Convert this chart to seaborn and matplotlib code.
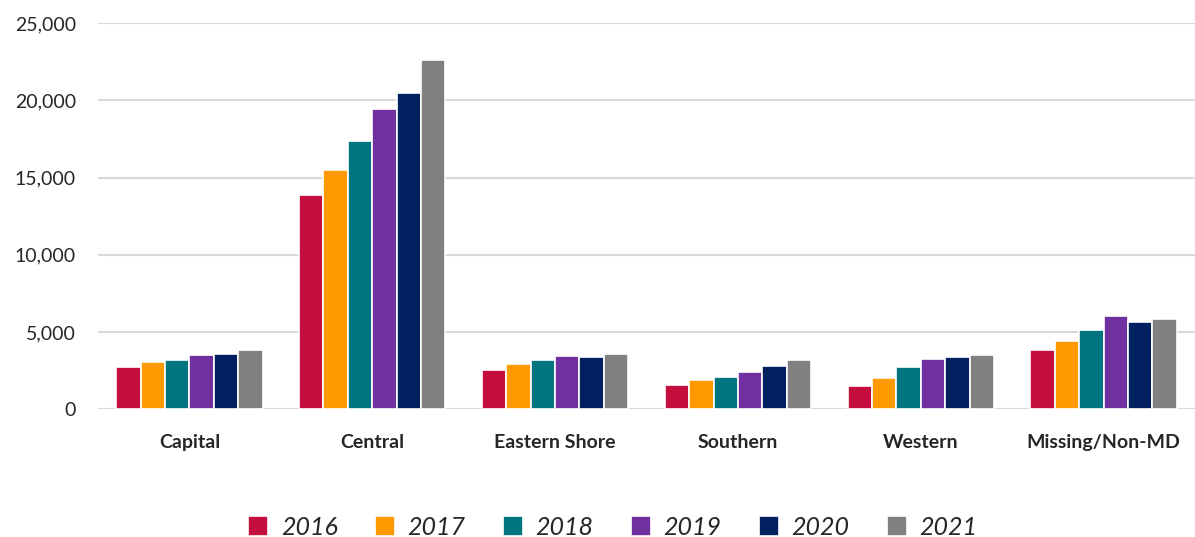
import matplotlib
matplotlib.use("Agg")
import matplotlib.pyplot as plt
import seaborn as sns
import pandas as pd
from matplotlib.ticker import FuncFormatter

regions = ["Capital", "Central", "Eastern Shore", "Southern", "Western", "Missing/Non-MD"]
years = ["2016", "2017", "2018", "2019", "2020", "2021"]
v2016 = [2730, 13900, 2550, 1580, 1510, 3850]
v2017 = [3030, 15470, 2940, 1860, 1990, 4440]
v2018 = [3200, 17360, 3180, 2100, 2730, 5100]
v2019 = [3510, 19420, 3440, 2420, 3250, 6060]
v2020 = [3590, 20450, 3400, 2770, 3380, 5670]
v2021 = [3850, 22620, 3570, 3160, 3500, 5870]
colors = ["#C40F3E", "#FF9900", "#007580", "#7030A0", "#002060", "#808080"]

series = [v2016, v2017, v2018, v2019, v2020, v2021]
rows = []
for y, vals in zip(years, series):
    for r, v in zip(regions, vals):
        rows.append({"Region": r, "Year": y, "Value": v})
df = pd.DataFrame(rows)

sns.set_theme(style="white")
plt.rcParams['font.family'] = ['Lato', 'DejaVu Sans']

fig = plt.figure(figsize=(11.95, 5.37), dpi=100)
ax = fig.add_axes([0.082, 0.238, 0.918, 0.719])

sns.barplot(data=df, x="Region", y="Value", hue="Year", palette=colors,
            saturation=1, width=0.8, edgecolor="white", linewidth=1.2, ax=ax, legend=True)

ax.set_ylim(0, 25000)
ax.set_yticks(range(0, 25001, 5000))
ax.yaxis.set_major_formatter(FuncFormatter(lambda v, p: f"{int(v):,}"))
ax.grid(axis="y", color="#D9D9D9", linewidth=1.5)
ax.set_axisbelow(True)
for s in ax.spines.values():
    s.set_visible(False)
ax.set_xlabel("")
ax.set_ylabel("")
ax.tick_params(axis="y", labelsize=14, pad=16, length=0)
ax.tick_params(axis="x", labelsize=14, pad=18, length=0)
for t in ax.get_xticklabels():
    t.set_fontweight("bold")
ax.set_xlim(-0.5, 5.5)

handles, labels = ax.get_legend_handles_labels()
ax.get_legend().remove()
fig.legend(handles, labels, loc="lower center", bbox_to_anchor=(0.513, -0.045), ncol=6,
           frameon=False, prop={"style": "italic", "size": 18}, handlelength=0.8,
           handleheight=0.8, handletextpad=0.5, columnspacing=1.5)

fig.savefig("out.png", dpi=100)
